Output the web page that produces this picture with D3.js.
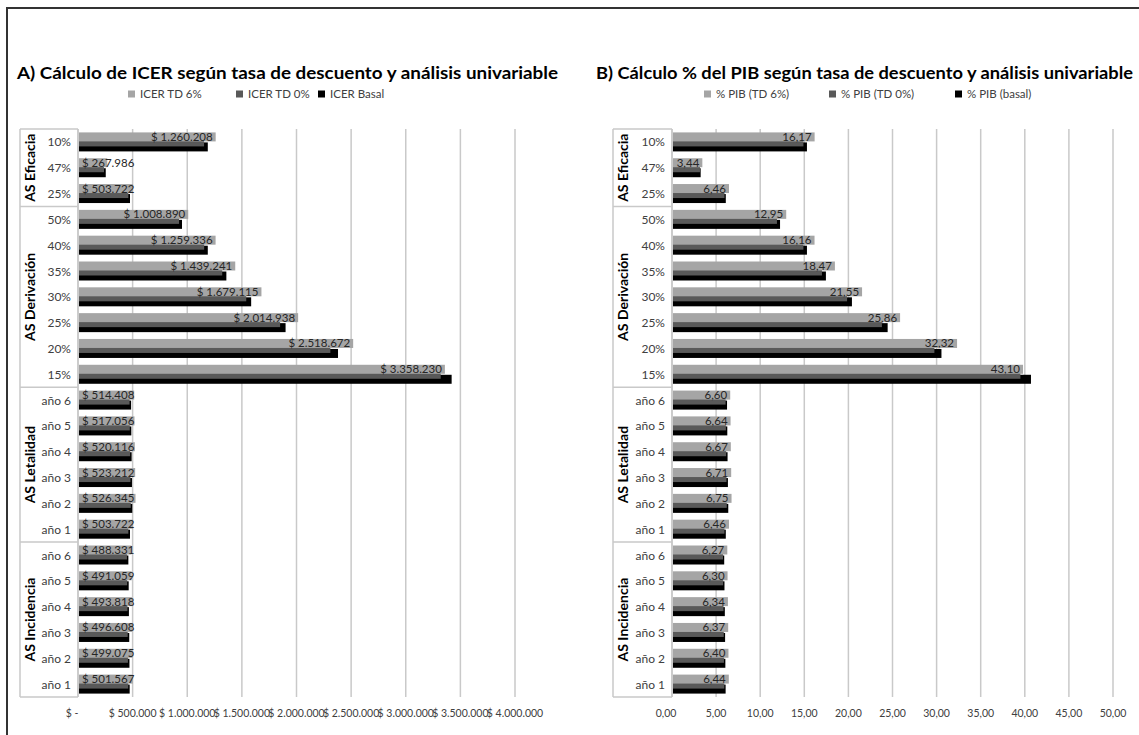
<!DOCTYPE html>
<html>
<head>
<meta charset="utf-8">
<script src="https://cdn.jsdelivr.net/npm/d3@7"></script>
<style>
  body { margin: 0; background: #fff; }
  text { font-family: Lato, "Noto Sans", sans-serif; }
</style>
</head>
<body>
<div id="chart"></div>
<script>
// categories, top to bottom
var groups = ["AS Eficacia", "AS Derivación", "AS Letalidad", "AS Incidencia"];
var groupSizes = [3, 7, 6, 6];
var categories = ["10%", "47%", "25%",
  "50%", "40%", "35%", "30%", "25%", "20%", "15%",
  "año 6", "año 5", "año 4", "año 3", "año 2", "año 1",
  "año 6", "año 5", "año 4", "año 3", "año 2", "año 1"];

// panel A values (ICER, $)
var icerTD6 = [1260208, 267986, 503722,
  1008890, 1259336, 1439241, 1679115, 2014938, 2518672, 3358230,
  514408, 517056, 520116, 523212, 526345, 503722,
  488331, 491059, 493818, 496608, 499075, 501567];
var icerTD0 = [1154000, 238000, 461000,
  925000, 1155000, 1320000, 1540000, 1850000, 2310000, 3320000,
  472000, 474000, 477000, 480000, 483000, 461000,
  448000, 450000, 453000, 455000, 457000, 460000];
var icerBasal = [1188000, 254000, 476000,
  952000, 1188000, 1358000, 1585000, 1900000, 2380000, 3420000,
  486000, 488000, 491000, 494000, 497000, 476000,
  461000, 464000, 466000, 469000, 471000, 473000];
var ticksA = [0, 500000, 1000000, 1500000, 2000000, 2500000, 3000000, 3500000, 4000000];

// panel B values (% PIB); bar lengths as drawn, labels as printed
var pibTD6 = [16.17, 3.44, 6.46,
  12.95, 16.16, 18.47, 21.55, 25.86, 32.32, 39.8,
  6.60, 6.64, 6.67, 6.71, 6.75, 6.46,
  6.27, 6.30, 6.34, 6.37, 6.40, 6.44];
var pibTD6Labels = ["16,17", "3,44", "6,46",
  "12,95", "16,16", "18,47", "21,55", "25,86", "32,32", "43,10",
  "6,60", "6,64", "6,67", "6,71", "6,75", "6,46",
  "6,27", "6,30", "6,34", "6,37", "6,40", "6,44"];
var pibTD0 = [14.9, 3.17, 5.95,
  11.9, 14.9, 17.0, 19.85, 23.8, 29.75, 39.5,
  6.08, 6.11, 6.14, 6.18, 6.21, 5.95,
  5.78, 5.80, 5.84, 5.87, 5.89, 5.93];
var pibBasal = [15.3, 3.25, 6.1,
  12.25, 15.3, 17.45, 20.4, 24.45, 30.55, 40.7,
  6.24, 6.27, 6.30, 6.34, 6.38, 6.10,
  5.92, 5.95, 5.99, 6.02, 6.05, 6.08];
var ticksB = [0, 5, 10, 15, 20, 25, 30, 35, 40, 45, 50];

var W = 1139, H = 735;
var COLORS = ["#a5a5a5", "#595959", "#000000"];

var svg = d3.select("#chart").append("svg")
  .attr("width", W).attr("height", H);

// outer frame
svg.append("path")
  .attr("d", "M 7," + H + " L 7,8 L " + W + ",8")
  .attr("fill", "none").attr("stroke", "#333").attr("stroke-width", 2);

var fmtA = function(v) {
  if (v === 0) return "$ -";
  return "$ " + d3.format(",")(v).replace(/,/g, ".");
};
var fmtB = function(v) { return d3.format(".2f")(v).replace(".", ","); };

function drawPanel(p) {
  var g = svg.append("g");

  // title
  g.append("text")
    .attr("x", p.titleX).attr("y", 79)
    .attr("font-size", 17).attr("font-weight", "bold").attr("fill", "#000")
    .attr("textLength", p.titleW).attr("lengthAdjust", "spacingAndGlyphs")
    .text(p.title);

  // legend
  p.legend.forEach(function(name, i) {
    var lx = p.legendX[i];
    g.append("rect").attr("x", lx).attr("y", 90.5).attr("width", 7).attr("height", 7)
      .attr("fill", COLORS[i]);
    g.append("text").attr("x", lx + 12).attr("y", 98)
      .attr("font-size", 11.5).attr("fill", "#404040").text(name);
  });

  var x = d3.scaleLinear().domain(p.domain).range([p.x0, p.x1]);
  var keys = categories.map(function(c, i) { return i; });
  var y = d3.scaleBand().domain(keys).range([129, 697]);
  var bh = 9;

  // gridlines
  g.selectAll(".grid").data(p.ticks).enter().append("line")
    .attr("x1", function(d) { return x(d); }).attr("x2", function(d) { return x(d); })
    .attr("y1", 129).attr("y2", 697)
    .attr("stroke", "#c9c9c9").attr("stroke-width", 1.5);

  // x tick labels
  g.selectAll(".tick").data(p.ticks).enter().append("text")
    .attr("x", function(d) { return x(d) + (d === 0 ? -6 : 0); }).attr("y", 717)
    .attr("text-anchor", "middle").attr("font-size", 10.5).attr("fill", "#404040")
    .text(p.fmt);

  // category box
  var bx = p.boxX;
  g.append("line").attr("x1", bx).attr("x2", bx).attr("y1", 129).attr("y2", 697)
    .attr("stroke", "#c9c9c9").attr("stroke-width", 1.5);
  var start = 0;
  var bounds = [0];
  groupSizes.forEach(function(n) { start += n; bounds.push(start); });
  bounds.forEach(function(b) {
    var yy = b < categories.length ? y(b) : 697;
    g.append("line").attr("x1", bx).attr("x2", p.x0).attr("y1", yy).attr("y2", yy)
      .attr("stroke", "#c9c9c9").attr("stroke-width", 1.5);
  });
  groups.forEach(function(name, gi) {
    var a = bounds[gi], b = bounds[gi + 1];
    var cy = (y(a) + (b < categories.length ? y(b) : 697)) / 2;
    g.append("text")
      .attr("transform", "translate(" + (bx + 15) + "," + cy + ") rotate(-90)")
      .attr("text-anchor", "middle").attr("font-size", 14).attr("font-weight", "bold")
      .attr("fill", "#000").text(name);
  });

  // category labels
  g.selectAll(".cat").data(keys).enter().append("text")
    .attr("x", p.x0 - 7).attr("y", function(d) { return y(d) + y.bandwidth() / 2 + 4.5; })
    .attr("text-anchor", "end").attr("font-size", 12).attr("fill", "#404040")
    .text(function(d) { return categories[d]; });

  // bars: drawn back to front (black, dark gray, light gray)
  var series = [p.s1, p.s2, p.s3];
  var offs = [-9.5, -4.5, 0.5];
  [2, 1, 0].forEach(function(si) {
    g.selectAll(".bar" + si).data(keys).enter().append("rect")
      .attr("x", p.x0 + 1)
      .attr("y", function(d) { return y(d) + y.bandwidth() / 2 + offs[si]; })
      .attr("width", function(d) { return x(series[si][d]) - p.x0 - 1; })
      .attr("height", bh)
      .attr("fill", COLORS[si]);
  });

  // value labels on light gray bars
  g.selectAll(".val").data(keys).enter().append("text")
    .attr("y", function(d) { return y(d) + y.bandwidth() / 2 + offs[0] + 8.5; })
    .attr("font-size", 11.5).attr("fill", "#262626")
    .text(function(d) { return p.labels ? p.labels[d] : p.fmt(p.s1[d]); })
    .attr("x", function(d) {
      var w = this.getComputedTextLength();
      return Math.max(x(p.s1[d]) - 3 - w, p.x0 + 4);
    });

  // axis line
  g.append("line").attr("x1", p.x0).attr("x2", p.x0).attr("y1", 129).attr("y2", 697)
    .attr("stroke", "#c9c9c9").attr("stroke-width", 1.5);
}

drawPanel({
  title: "A) Cálculo de ICER según tasa de descuento y análisis univariable",
  titleX: 17, titleW: 541,
  legend: ["ICER TD 6%", "ICER TD 0%", "ICER Basal"],
  legendX: [128, 236, 318],
  domain: [0, 4000000], x0: 78, x1: 515,
  boxX: 20,
  ticks: ticksA, fmt: fmtA,
  s1: icerTD6, s2: icerTD0, s3: icerBasal
});

drawPanel({
  title: "B) Cálculo % del PIB según tasa de descuento y análisis univariable",
  titleX: 596, titleW: 537,
  legend: ["% PIB (TD 6%)", "% PIB (TD 0%)", "% PIB (basal)"],
  legendX: [704, 829, 955],
  domain: [0, 50], x0: 672, x1: 1113,
  boxX: 613,
  ticks: ticksB, fmt: fmtB, labels: pibTD6Labels,
  s1: pibTD6, s2: pibTD0, s3: pibBasal
});
</script>
</body>
</html>
